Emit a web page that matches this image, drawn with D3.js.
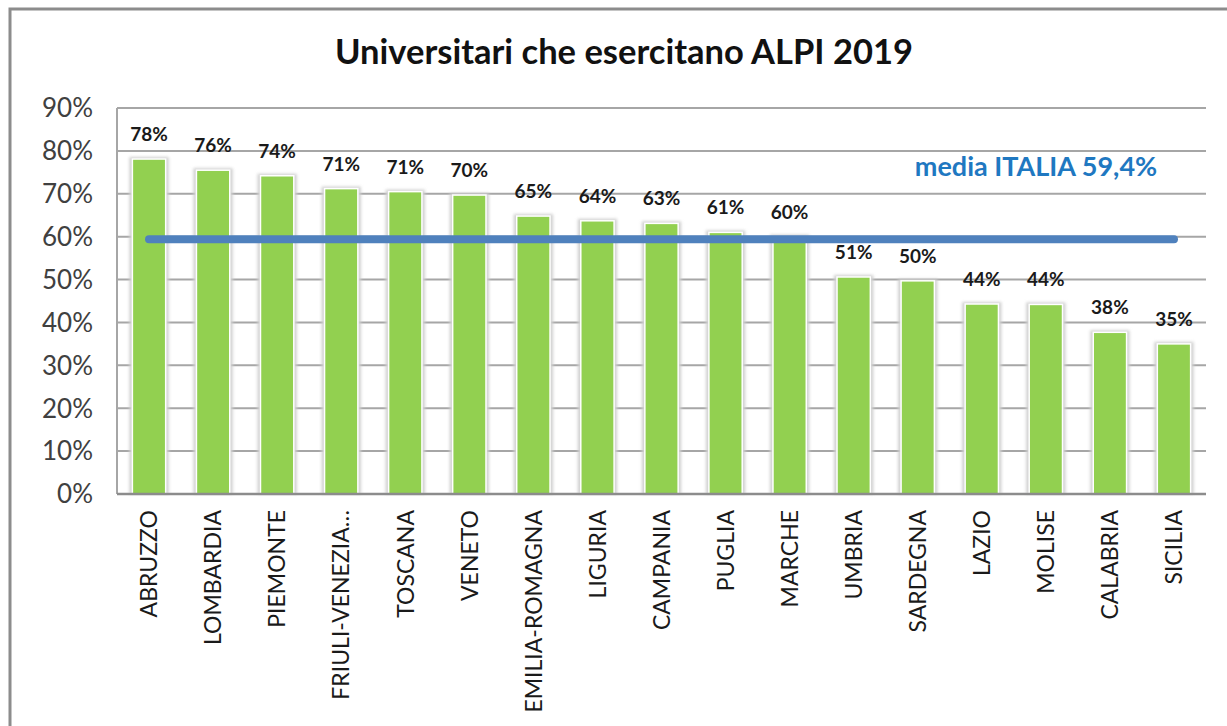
<!DOCTYPE html>
<html>
<head>
<meta charset="utf-8">
<script src="https://cdn.jsdelivr.net/npm/d3@7"></script>
<style>
  body { margin: 0; background: #fff; }
  svg { display: block; font-family: Lato, "Open Sans", sans-serif; }
</style>
</head>
<body>
<div id="chart"></div>
<script>
// data
const regions = ["ABRUZZO", "LOMBARDIA", "PIEMONTE", "FRIULI-VENEZIA…", "TOSCANA", "VENETO",
    "EMILIA-ROMAGNA", "LIGURIA", "CAMPANIA", "PUGLIA", "MARCHE", "UMBRIA", "SARDEGNA",
    "LAZIO", "MOLISE", "CALABRIA", "SICILIA"];
const shares = [78.1, 75.5, 74.2, 71.2, 70.5, 69.7, 64.8, 63.7, 63.1, 61.0, 60.0, 50.6, 49.7,
    44.3, 44.2, 37.7, 35.0];
const yTicks = [0, 10, 20, 30, 40, 50, 60, 70, 80, 90];
const italyMean = 59.4;
const meanLabel = "media ITALIA 59,4%";
const title = "Universitari che esercitano ALPI 2019";

const width = 1227, height = 726;
const plot = {left: 117, right: 1206, top: 108, bottom: 494};

const svg = d3.select("#chart").append("svg")
    .attr("width", width)
    .attr("height", height);

// soft shadow round the bars
const defs = svg.append("defs");
defs.append("filter").attr("id", "glow")
    .attr("x", "-50%").attr("width", "200%")
    .append("feGaussianBlur").attr("stdDeviation", 1.5);

// outer frame (only top and left visible)
svg.append("path")
    .attr("d", `M10,${height + 5} L10,9 L${width + 5},9`)
    .attr("fill", "none")
    .attr("stroke", "#8c8c8c")
    .attr("stroke-width", 3);

const x = d3.scaleBand()
    .domain(regions)
    .range([plot.left, plot.right])
    .paddingInner(0.48)
    .paddingOuter(0.24);

const y = d3.scaleLinear()
    .domain([0, 90])
    .range([plot.bottom, plot.top]);

// gridlines
svg.append("g")
    .selectAll("line")
    .data(yTicks)
    .join("line")
    .attr("x1", plot.left)
    .attr("x2", plot.right)
    .attr("y1", d => y(d))
    .attr("y2", d => y(d))
    .attr("stroke", "#a6a6a6")
    .attr("stroke-width", 2);

// y axis labels
svg.append("g")
    .selectAll("text")
    .data(yTicks)
    .join("text")
    .attr("x", 93)
    .attr("y", d => y(d))
    .attr("dy", "0.36em")
    .attr("text-anchor", "end")
    .attr("font-size", 26)
    .attr("fill", "#404040")
    .text(d => d + "%");

// bars
const bars = svg.append("g");
bars.selectAll("rect.shadow")
    .data(shares)
    .join("rect")
    .attr("class", "shadow")
    .attr("x", (d, i) => x(regions[i]) - 3)
    .attr("y", d => y(d) - 2)
    .attr("width", x.bandwidth() + 6)
    .attr("height", d => plot.bottom - y(d) + 2)
    .attr("fill", "#d0d0d0")
    .attr("filter", "url(#glow)");

bars.selectAll("rect.bar")
    .data(shares)
    .join("rect")
    .attr("class", "bar")
    .attr("x", (d, i) => x(regions[i]))
    .attr("y", d => y(d))
    .attr("width", x.bandwidth())
    .attr("height", d => plot.bottom - y(d))
    .attr("fill", "#92d050")
    .attr("stroke", "#fff")
    .attr("stroke-width", 1.5);

// axis lines
svg.append("line")
    .attr("x1", plot.left).attr("x2", plot.left)
    .attr("y1", plot.top).attr("y2", plot.bottom)
    .attr("stroke", "#a6a6a6").attr("stroke-width", 2);
svg.append("line")
    .attr("x1", plot.left).attr("x2", plot.right)
    .attr("y1", plot.bottom).attr("y2", plot.bottom)
    .attr("stroke", "#8c8c8c").attr("stroke-width", 2.5);

// value labels
svg.append("g")
    .selectAll("text")
    .data(shares)
    .join("text")
    .attr("x", (d, i) => x(regions[i]) + x.bandwidth() / 2)
    .attr("y", d => y(d) - 18)
    .attr("text-anchor", "middle")
    .attr("font-size", 19)
    .attr("font-weight", "bold")
    .attr("fill", "#1a1a1a")
    .text(d => Math.round(d) + "%");

// national mean line
const first = regions[0], last = regions[regions.length - 1];
svg.append("line")
    .attr("x1", x(first) + x.bandwidth() / 2)
    .attr("x2", x(last) + x.bandwidth() / 2)
    .attr("y1", y(italyMean))
    .attr("y2", y(italyMean))
    .attr("stroke", "#4f81bd")
    .attr("stroke-width", 8)
    .attr("stroke-linecap", "round");

svg.append("text")
    .attr("x", 1036)
    .attr("y", 176)
    .attr("text-anchor", "middle")
    .attr("font-size", 27)
    .attr("font-weight", "bold")
    .attr("fill", "#1f78c1")
    .text(meanLabel);

// category labels
svg.append("g")
    .selectAll("text")
    .data(regions)
    .join("text")
    .attr("transform", d => `translate(${x(d) + x.bandwidth() / 2},510) rotate(-90)`)
    .attr("dy", "0.36em")
    .attr("text-anchor", "end")
    .attr("font-size", 23)
    .attr("fill", "#1a1a1a")
    .text(d => d);

// title
svg.append("text")
    .attr("x", 624)
    .attr("y", 64)
    .attr("text-anchor", "middle")
    .attr("font-size", 34.5)
    .attr("font-weight", "bold")
    .attr("fill", "#111")
    .text(title);
</script>
</body>
</html>
